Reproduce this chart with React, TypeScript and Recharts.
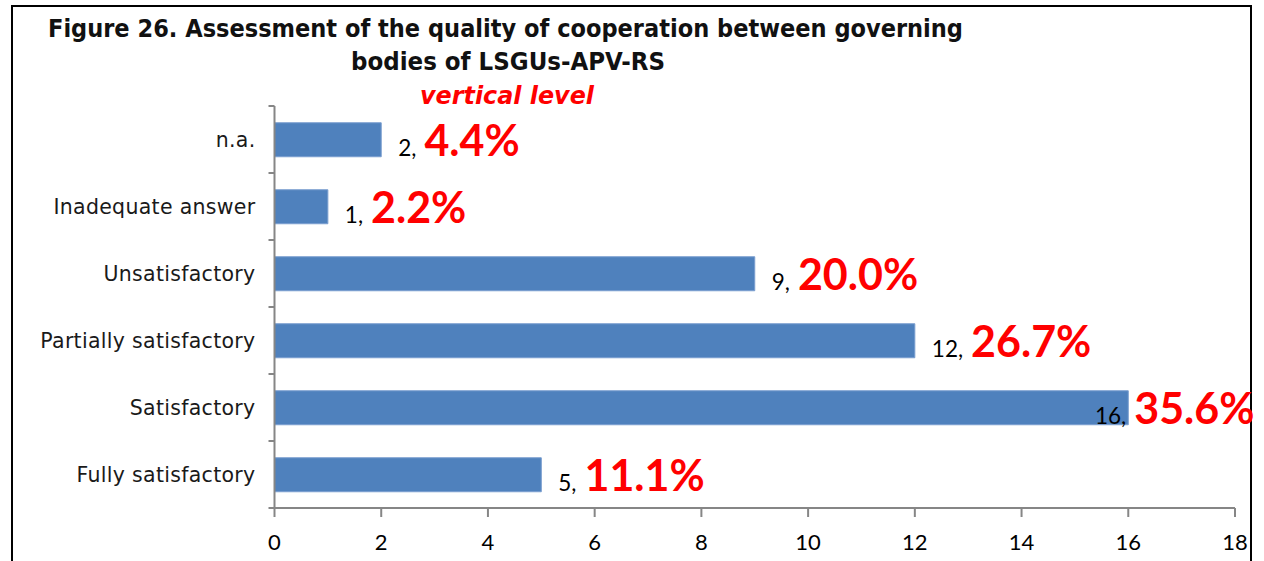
import React from "react";
import { BarChart, Bar, XAxis, YAxis, LabelList } from "recharts";

const categories = [
  "n.a.",
  "Inadequate answer",
  "Unsatisfactory",
  "Partially satisfactory",
  "Satisfactory",
  "Fully satisfactory",
];
const counts = [2, 1, 9, 12, 16, 5];
const percentLabels = ["4.4%", "2.2%", "20.0%", "26.7%", "35.6%", "11.1%"];
const xTicks = [0, 2, 4, 6, 8, 10, 12, 14, 16, 18];

const data = categories.map((name, i) => ({ name, value: counts[i], pct: percentLabels[i] }));

const W = 1264;
const H = 561;
const M = { top: 106, right: 29, bottom: 0, left: 0 };
const Y_AXIS_W = 274.5;
const X_AXIS_H = 53;
const PLOT_H = H - M.top - M.bottom - X_AXIS_H;
const BAND = PLOT_H / categories.length;
const AXIS_COLOR = "#868686";

const YTick = (props: any) => {
  const { x, y, payload, index } = props;
  return (
    <g>
      <text
        x={x - 19}
        y={y}
        textAnchor="end"
        dominantBaseline="central"
        fontFamily="'DejaVu Sans', sans-serif"
        fontSize={20.5}
        letterSpacing={0.3}
        fill="#1a1a1a"
      >
        {payload.value}
      </text>
      <line x1={x - 6} x2={x} y1={y - BAND / 2} y2={y - BAND / 2} stroke={AXIS_COLOR} strokeWidth={2} />
      {index === categories.length - 1 && (
        <line x1={x - 6} x2={x} y1={y + BAND / 2} y2={y + BAND / 2} stroke={AXIS_COLOR} strokeWidth={2} />
      )}
    </g>
  );
};

const ValueLabel = (props: any) => {
  const { x, y, width, height, value, index } = props;
  const pct = percentLabels[index];
  const start = x + width + 17;
  const estWidth = String(value).length * 13 + 15 + pct.length * 24;
  const maxRight = 1256;
  const sx = start + estWidth > maxRight ? maxRight - estWidth : start;
  return (
    <text x={sx} y={y + height / 2 + 16}>
      <tspan fontFamily="Lato, sans-serif" fontSize={22.5} fill="#000">
        {value + ","}
      </tspan>
      <tspan dx={8} fontFamily="Lato, sans-serif" fontSize={43} fontWeight="bold" fill="#FF0000">
        {pct}
      </tspan>
    </text>
  );
};

export default function App() {
  return (
    <div style={{ position: "fixed", left: 0, top: 0, width: W, height: H, background: "#fff" }}>
      <div
        style={{
          position: "absolute",
          left: 11,
          top: 5,
          width: 1254 - 11 - 2,
          height: 600,
          border: "2px solid #000",
          boxSizing: "border-box",
        }}
      />
      <svg width={W} height={120} style={{ position: "absolute", left: 0, top: 0 }}>
        <text
          x={48}
          y={37}
          fontFamily="'DejaVu Sans', sans-serif"
          fontWeight="bold"
          fontSize={24}
          fill="#111"
          textLength={915}
          lengthAdjust="spacingAndGlyphs"
        >
          Figure 26. Assessment of the quality of cooperation between governing
        </text>
        <text
          x={351}
          y={70}
          fontFamily="'DejaVu Sans', sans-serif"
          fontWeight="bold"
          fontSize={24}
          fill="#111"
          textLength={314}
          lengthAdjust="spacingAndGlyphs"
        >
          bodies of LSGUs-APV-RS
        </text>
        <text
          x={420}
          y={104}
          fontFamily="'DejaVu Sans', sans-serif"
          fontWeight="bold"
          fontStyle="italic"
          fontSize={24}
          fill="#FF0000"
          textLength={174}
          lengthAdjust="spacingAndGlyphs"
        >
          vertical level
        </text>
      </svg>
      <div style={{ position: "absolute", left: 0, top: 0 }}>
        <BarChart
          width={W}
          height={H}
          data={data}
          layout="vertical"
          margin={M}
          barCategoryGap="25%"
          style={{ overflow: "visible" }}
        >
          <XAxis
            type="number"
            domain={[0, 18]}
            ticks={xTicks}
            interval={0}
            height={X_AXIS_H}
            stroke={AXIS_COLOR}
            strokeWidth={2}
            tickSize={9}
            tickMargin={17}
            tick={{ fill: "#000", fontSize: 22, fontFamily: "Lato, sans-serif" }}
            tickLine={{ stroke: AXIS_COLOR, strokeWidth: 2 }}
          />
          <YAxis
            type="category"
            dataKey="name"
            width={Y_AXIS_W}
            stroke={AXIS_COLOR}
            strokeWidth={2}
            tickSize={0}
            tickMargin={0}
            tickLine={false}
            tick={<YTick />}
            interval={0}
          />
          <Bar dataKey="value" fill="#4F81BD" stroke="#7A9ECF" strokeWidth={1} isAnimationActive={false}>
            <LabelList dataKey="value" content={<ValueLabel />} />
          </Bar>
        </BarChart>
      </div>
    </div>
  );
}
